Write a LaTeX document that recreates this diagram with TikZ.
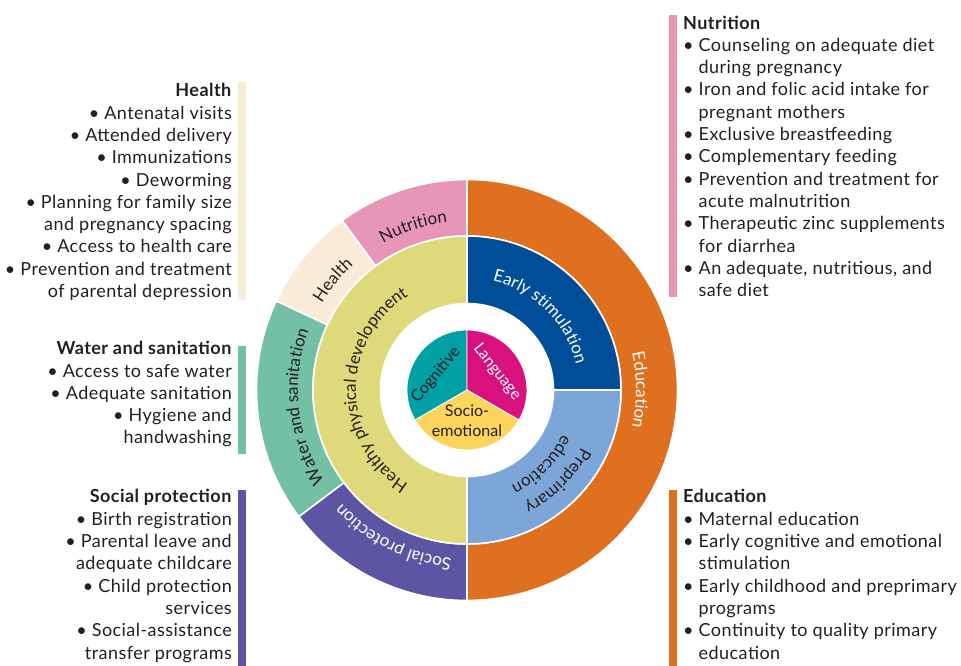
\documentclass[tikz,border=0pt]{standalone}
\usepackage{fontspec}
\setmainfont{Lato}
\newfontfamily\listfam[LetterSpace=2.5]{Lato}
\usetikzlibrary{decorations.text}

\definecolor{ink}{HTML}{231F20}
\definecolor{educ}{HTML}{DE7020}
\definecolor{stim}{HTML}{004E98}
\definecolor{prep}{HTML}{7DA6D8}
\definecolor{phys}{HTML}{DEDA7C}
\definecolor{nutr}{HTML}{E796B7}
\definecolor{hlth}{HTML}{FAEBD9}
\definecolor{watr}{HTML}{73C0A7}
\definecolor{socl}{HTML}{5D55A3}
\definecolor{cogn}{HTML}{00A0A5}
\definecolor{lang}{HTML}{D8117E}
\definecolor{emot}{HTML}{FDD45C}

\newcommand{\listfont}{\listfam\fontsize{18}{22.3}\selectfont}
\newcommand{\ringfont}{\fontsize{17}{20}\selectfont}
\newcommand{\piefont}{\fontsize{16}{20}\selectfont}
\newcommand{\bul}{\textbullet\ }
\newcommand{\hang}{\phantom{\textbullet\ }}
% ring piece: inner radius, outer radius, from angle, to angle, colour
\newcommand{\ringpiece}[5]{%
\fill[#5,draw=white,line width=1.6pt] (#3:#1) arc[start angle=#3,end angle=#4,radius=#1]
-- (#4:#2) arc[start angle=#4,end angle=#3,radius=#2] -- cycle;}
% pie slice: from angle, to angle, colour
\newcommand{\pieslice}[3]{%
\fill[#3,draw=white,line width=0.8pt] (0,0) -- (#1:60) arc[start angle=#1,end angle=#2,radius=60] -- cycle;}

\begin{document}
\begin{tikzpicture}
[
x=1pt,y=1pt,
leftlist/.style={anchor=base east,align=right,inner sep=0pt,font=\listfont,text=ink},
rightlist/.style={anchor=base west,align=left,inner sep=0pt,font=\listfont,text=ink},
ringtext/.style={decorate,decoration={text along path,text align=center,text={#1}}},
piece/.style={font=\piefont,inner sep=0pt,text=ink}
]
\useasboundingbox (-467,-276) rectangle (494,390);

% outer ring
\ringpiece{154}{210.5}{90}{-90}{educ}
\ringpiece{154}{210.5}{126.4}{90}{nutr}
\ringpiece{154}{210.5}{155}{126.4}{hlth}
\ringpiece{154}{210.5}{217}{155}{watr}
\ringpiece{154}{210.5}{270}{217}{socl}
% middle ring
\ringpiece{86.5}{154}{90}{0}{stim}
\ringpiece{86.5}{154}{0}{-90}{prep}
\ringpiece{86.5}{154}{270}{90}{phys}
% core
\pieslice{90}{210}{cogn}
\pieslice{-30}{90}{lang}
\pieslice{210}{330}{emot}

% ring labels
\path[ringtext={|\ringfont\color{white}|Education}] (90:169) arc[start angle=90,end angle=-90,radius=169];
\path[ringtext={|\ringfont\color{ink}|Nutrition}] (126.4:169) arc[start angle=126.4,end angle=90,radius=169];
\path[ringtext={|\ringfont\color{ink}|Health}] (155:169) arc[start angle=155,end angle=126.4,radius=169];
\path[ringtext={|\ringfont\color{ink}|Water and sanitation}] (217:169) arc[start angle=217,end angle=155,radius=169];
\path[ringtext={|\ringfont\color{white}|Social protection}] (270:169) arc[start angle=270,end angle=217,radius=169];
\path[ringtext={|\ringfont\color{white}|Early stimulation}] (90:112) arc[start angle=90,end angle=0,radius=112];
\path[ringtext={|\ringfont\color{ink}|Healthy physical development}] (270:111) arc[start angle=270,end angle=90,radius=111];
\path[ringtext={|\ringfont\color{ink}|Preprimary}] (0:128) arc[start angle=0,end angle=-90,radius=128];
\path[ringtext={|\ringfont\color{ink}|education}] (0:105) arc[start angle=0,end angle=-90,radius=105];

\node[piece,rotate=50] (cognitive) at (-31,15) {Cognitive};
\node[piece,rotate=-52,text=white] (language) at (30,18) {Language};
\node[piece,align=center] (socioemo) at (0,-31) {Socio-\\emotional};

% side bars
\fill[hlth] (-229,308) rectangle (-221,90);
\fill[watr] (-229,44) rectangle (-221,-64);
\fill[socl] (-229,-100) rectangle (-221,-276);
\fill[nutr] (202,375) rectangle (210,93);
\fill[educ] (202,-100) rectangle (210,-276);

% lists (anchored on the baseline of their last line)
\node[leftlist] (healthlist) at (-235,92.4) {\textbf{Health}\\
\bul Antenatal visits\\
\bul Attended delivery\\
\bul Immunizations\\
\bul Deworming\\
\bul Planning for family size\\
and pregnancy spacing\\
\bul Access to health care\\
\bul Prevention and treatment\\
of parental depression};
\node[leftlist] (waterlist) at (-235,-54) {\textbf{Water and sanitation}\\
\bul Access to safe water\\
\bul Adequate sanitation\\
\bul Hygiene and\\
handwashing};
\node[leftlist] (sociallist) at (-235,-269) {\textbf{Social protection}\\
\bul Birth registration\\
\bul Parental leave and\\
adequate childcare\\
\bul Child protection\\
services\\
\bul Social-assistance\\
transfer programs};
\node[rightlist] (nutritionlist) at (216,93.3) {\textbf{Nutrition}\\
\bul Counseling on adequate diet\\
\hang during pregnancy\\
\bul Iron and folic acid intake for\\
\hang pregnant mothers\\
\bul Exclusive breastfeeding\\
\bul Complementary feeding\\
\bul Prevention and treatment for\\
\hang acute malnutrition\\
\bul Therapeutic zinc supplements\\
\hang for diarrhea\\
\bul An adequate, nutritious, and\\
\hang safe diet};
\node[rightlist] (educationlist) at (216,-269) {\textbf{Education}\\
\bul Maternal education\\
\bul Early cognitive and emotional\\
\hang stimulation\\
\bul Early childhood and preprimary\\
\hang programs\\
\bul Continuity to quality primary\\
\hang education};
\end{tikzpicture}
\end{document}
